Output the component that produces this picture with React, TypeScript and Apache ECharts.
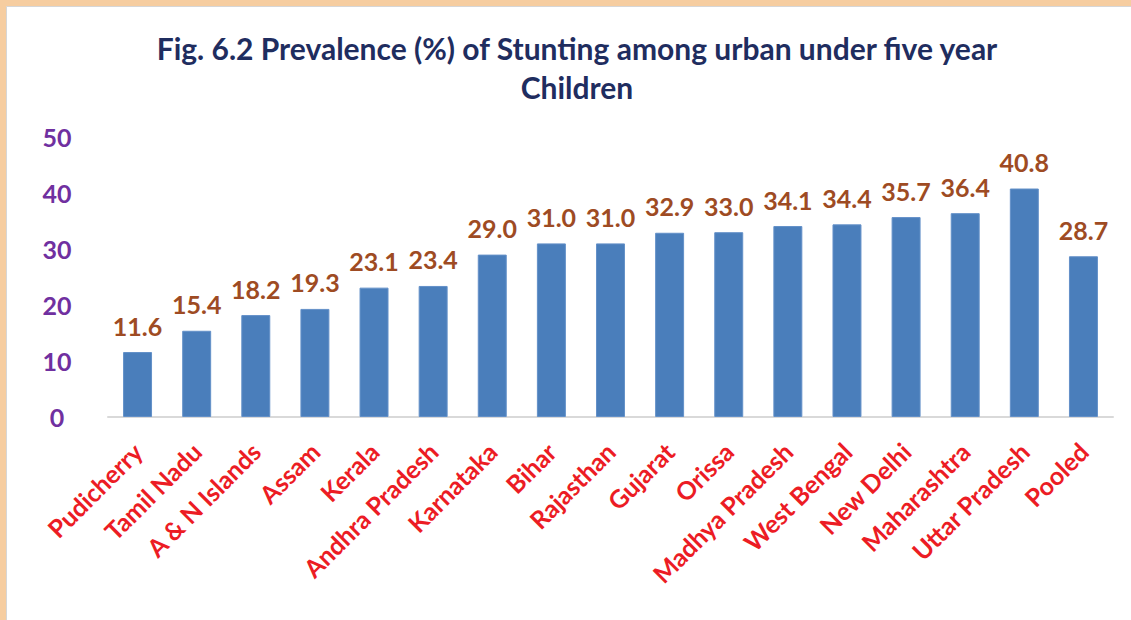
import React, { useEffect, useRef } from "react";
import * as echarts from "echarts";

const titleLines = ["Fig. 6.2 Prevalence (%) of Stunting among urban under five year", "Children"];

const categories = [
  "Pudicherry",
  "Tamil Nadu",
  "A & N Islands",
  "Assam",
  "Kerala",
  "Andhra Pradesh",
  "Karnataka",
  "Bihar",
  "Rajasthan",
  "Gujarat",
  "Orissa",
  "Madhya Pradesh",
  "West Bengal",
  "New Delhi",
  "Maharashtra",
  "Uttar Pradesh",
  "Pooled",
];

const stunting = [11.6, 15.4, 18.2, 19.3, 23.1, 23.4, 29.0, 31.0, 31.0, 32.9, 33.0, 34.1, 34.4, 35.7, 36.4, 40.8, 28.7];

const yMin = 0;
const yMax = 50;
const yStep = 10;

const FONT = "Lato, 'Open Sans', sans-serif";

export default function App() {
  const ref = useRef<HTMLDivElement>(null);

  useEffect(() => {
    if (!ref.current) return;
    const chart = echarts.init(ref.current, undefined, { renderer: "svg" });
    chart.setOption({
      animation: false,
      backgroundColor: "#F6CDA0",
      graphic: [
        {
          type: "rect",
          z: -10,
          silent: true,
          shape: { x: 6.5, y: 6.5, width: 1200, height: 700 },
          style: { fill: "#FFFFFF", stroke: "#D6D6D6", lineWidth: 1 },
        },
      ],
      title: {
        text: titleLines.join("\n"),
        left: 572,
        textAlign: "center",
        top: 23,
        textStyle: {
          fontFamily: FONT,
          fontWeight: "bold",
          fontSize: 30,
          lineHeight: 39,
          color: "#1F2D5F",
        },
      },
      grid: { left: 108, right: 18, top: 137, bottom: 203 },
      xAxis: {
        type: "category",
        data: categories,
        axisLine: { show: true, lineStyle: { color: "#D9D9D9", width: 2 } },
        axisTick: { show: false },
        axisLabel: {
          interval: 0,
          rotate: 45,
          margin: 30,
          fontFamily: FONT,
          fontWeight: "bold",
          fontSize: 25,
          color: "#EC1C24",
        },
      },
      yAxis: {
        type: "value",
        min: yMin,
        max: yMax,
        interval: yStep,
        axisLine: { show: false },
        axisTick: { show: false },
        splitLine: { show: false },
        axisLabel: {
          margin: 51,
          align: "center",
          fontFamily: FONT,
          fontWeight: "bold",
          fontSize: 25,
          color: "#7030A0",
        },
      },
      series: [
        {
          type: "bar",
          data: stunting,
          barWidth: "49%",
          itemStyle: { color: "#4A7EBB", borderColor: "#6390C8", borderWidth: 1 },
          label: {
            show: true,
            position: "top",
            distance: 14,
            formatter: (p: any) => Number(p.value).toFixed(1),
            fontFamily: FONT,
            fontWeight: "bold",
            fontSize: 25,
            color: "#9E4B23",
          },
        },
      ],
    });
    return () => chart.dispose();
  }, []);

  return (
    <div
      ref={ref}
      style={{ position: "fixed", left: 0, top: 0, width: 1131, height: 620 }}
    />
  );
}
